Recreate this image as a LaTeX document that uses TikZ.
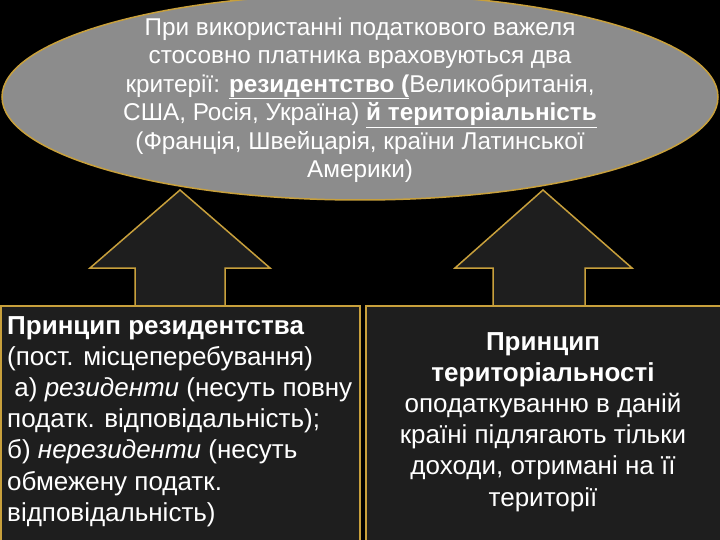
\documentclass[tikz,border=0pt]{standalone}
\usepackage{fontspec}
\setmainfont{Liberation Sans}
\usetikzlibrary{shapes.geometric}
\begin{document}
\begin{tikzpicture}[x=1pt,y=-1pt,
  gold/.style={draw={rgb,255:red,200;green,160;blue,60},line width=1.5pt},
  boxs/.style={gold,fill={rgb,255:red,30;green,30;blue,30}},
  txt/.style={text=white,font=\fontsize{26}{31.2}\selectfont}]
\fill[black] (0,0) rectangle (720,540);
\useasboundingbox (0,0) rectangle (720,540);
\node[gold,fill={rgb,255:red,140;green,140;blue,140},ellipse,minimum width=716,minimum height=206,inner sep=0] (ell) at (360,97) {};
\node[text=white,align=center,font=\fontsize{24.3}{28.5}\selectfont,anchor=north] (et) at (360,14) {При використанні податкового важеля\\стосовно платника враховуються два\\критерії: \underline{\textbf{резидентство (}}Великобританія,\\США, Росія, Україна) \underline{\textbf{й територіальність}}\\(Франція, Швейцарія, країни Латинської\\Америки)};
\draw[boxs] (135,306) -- (135,268) -- (90,268) -- (180,190) -- (270,268) -- (225,268) -- (225,306);
\draw[boxs] (493,306) -- (493,268) -- (455,268) -- (543,190) -- (632,268) -- (585,268) -- (585,306);
\node[boxs,minimum width=359,minimum height=236,anchor=north west] (lb) at (0,305) {};
\node[boxs,minimum width=355,minimum height=236,anchor=north west] (rb) at (365,305) {};
\node[txt,align=left,anchor=north west,inner sep=0] (lt) at (7,316) {\textbf{Принцип резидентства}\\(пост. місцеперебування)\\\ а) \textit{резиденти} (несуть повну\\податк. відповідальність);\\б) \textit{нерезиденти} (несуть\\обмежену податк.\\відповідальність)};
\node[txt,align=center,anchor=north,inner sep=0] (rt) at (543,332) {\textbf{Принцип}\\\textbf{територіальності}\\оподаткуванню в даній\\країні підлягають тільки\\доходи, отримані на її\\території};
\end{tikzpicture}
\end{document}
